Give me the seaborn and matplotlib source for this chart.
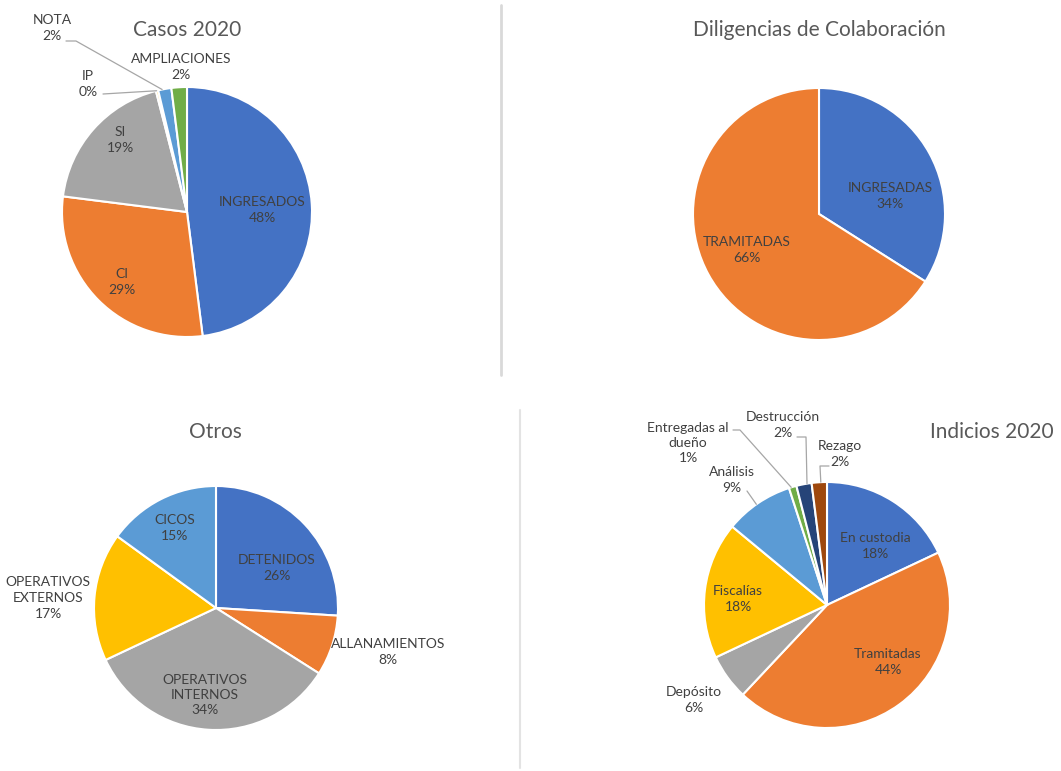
import numpy as np
import seaborn as sns
import matplotlib.pyplot as plt

# -------------------------------
# Data
# -------------------------------
casos_labels = ['INGRESADOS', 'CI', 'SI', 'IP', 'NOTA', 'AMPLIACIONES']
casos_values = [48, 29, 19, 0.3, 1.7, 2]

dilig_labels = ['INGRESADAS', 'TRAMITADAS']
dilig_values = [34, 66]

otros_labels = ['DETENIDOS', 'ALLANAMIENTOS', 'OPERATIVOS\nINTERNOS', 'OPERATIVOS\nEXTERNOS', 'CICOS']
otros_values = [26, 8, 34, 17, 15]

indicios_labels = ['En custodia', 'Tramitadas', 'Depósito', 'Fiscalías', 'Análisis',
                   'Entregadas al\ndueño', 'Destrucción', 'Rezago']
indicios_values = [18, 44, 6, 18, 9, 1, 2, 2]

titles = ['Casos 2020', 'Diligencias de Colaboración', 'Otros', 'Indicios 2020']

# Excel-like office palette
palette = sns.color_palette(['#4472C4', '#ED7D31', '#A5A5A5', '#FFC000',
                             '#5B9BD5', '#70AD47', '#264478', '#9E480E'])

# -------------------------------
# Layout (pixel coords of the 1061x771 canvas, y from top)
# -------------------------------
W, H = 1061, 771
pies = [
    dict(values=casos_values, labels=casos_labels, center=(187, 212), r=125,
         title_xy=(187, 30),
         label_xy=[(262, 210), (122, 282), (120, 140), (88, 84), (52, 28), (181, 67)],
         leaders={3: [(103, 94)], 4: [(66, 41), (76, 41)]}),
    dict(values=dilig_values, labels=dilig_labels, center=(819, 214), r=126,
         title_xy=(819, 30),
         label_xy=[(890, 196), (747, 250)], leaders={}),
    dict(values=otros_values, labels=otros_labels, center=(216, 608), r=122,
         title_xy=(215, 432),
         label_xy=[(277, 568), (388, 652), (205, 695), (48, 598), (175, 528)],
         leaders={}),
    dict(values=indicios_values, labels=indicios_labels, center=(827, 605), r=123,
         title_xy=(992, 432),
         label_xy=[(875, 546), (888, 662), (694, 700), (738, 599), (732, 480),
                   (688, 443), (783, 425), (840, 454)],
         leaders={4: [(747, 491)], 5: [(733, 430), (740, 430)],
                  6: [(797, 437), (806, 437)], 7: [(829, 466), (820, 466)]}),
]


def P(x, y):
    return x, H - y


sns.set_theme(style='white')
plt.rcParams['font.family'] = ['Lato', 'DejaVu Sans']

fig = plt.figure(figsize=(W / 100, H / 100), dpi=100)
ax = fig.add_axes([0, 0, 1, 1])

label_color = '#404040'
line_color = '#A6A6A6'

for i, p in enumerate(pies):
    cx, cy = P(*p['center'])
    wedges, _ = ax.pie(p['values'], colors=palette[:len(p['values'])],
                       center=(cx, cy), radius=p['r'], startangle=90,
                       counterclock=False,
                       wedgeprops=dict(edgecolor='white', linewidth=1.5))
    total = sum(p['values'])
    for j, (name, v) in enumerate(zip(p['labels'], p['values'])):
        pct = int(round(100 * v / total))
        lx, ly = P(*p['label_xy'][j])
        ax.text(lx, ly, f'{name}\n{pct}%', ha='center', va='center',
                fontsize=10, color=label_color, linespacing=1.35)
        if j in p['leaders']:
            pts = [P(*q) for q in p['leaders'][j]]
            w = wedges[j]
            t1, t2 = w.theta1, w.theta2
            mid = (t1 + t2) / 2
            ex, ey = pts[-1]
            a = np.degrees(np.arctan2(ey - cy, ex - cx))
            a = mid + ((a - mid + 180) % 360 - 180)
            a = np.clip(a, t1 + 0.3 * (t2 - t1), t2 - 0.3 * (t2 - t1))
            end = (cx + p['r'] * np.cos(np.radians(a)), cy + p['r'] * np.sin(np.radians(a)))
            xs = [q[0] for q in pts] + [end[0]]
            ys = [q[1] for q in pts] + [end[1]]
            ax.plot(xs, ys, color=line_color, lw=0.9)
    tx, ty = P(*p['title_xy'])
    ax.text(tx, ty, titles[i], ha='center', va='center', fontsize=15, color='#595959')

# separators
ax.plot(*zip(P(501, 5), P(501, 375)), color='#D9D9D9', lw=2)
ax.plot(*zip(P(520, 410), P(520, 768)), color='#E3E3E3', lw=1.5)

ax.set_xlim(0, W)
ax.set_ylim(0, H)
ax.set_aspect('equal')
ax.axis('off')

plt.savefig('out.png', dpi=100, facecolor='white')
